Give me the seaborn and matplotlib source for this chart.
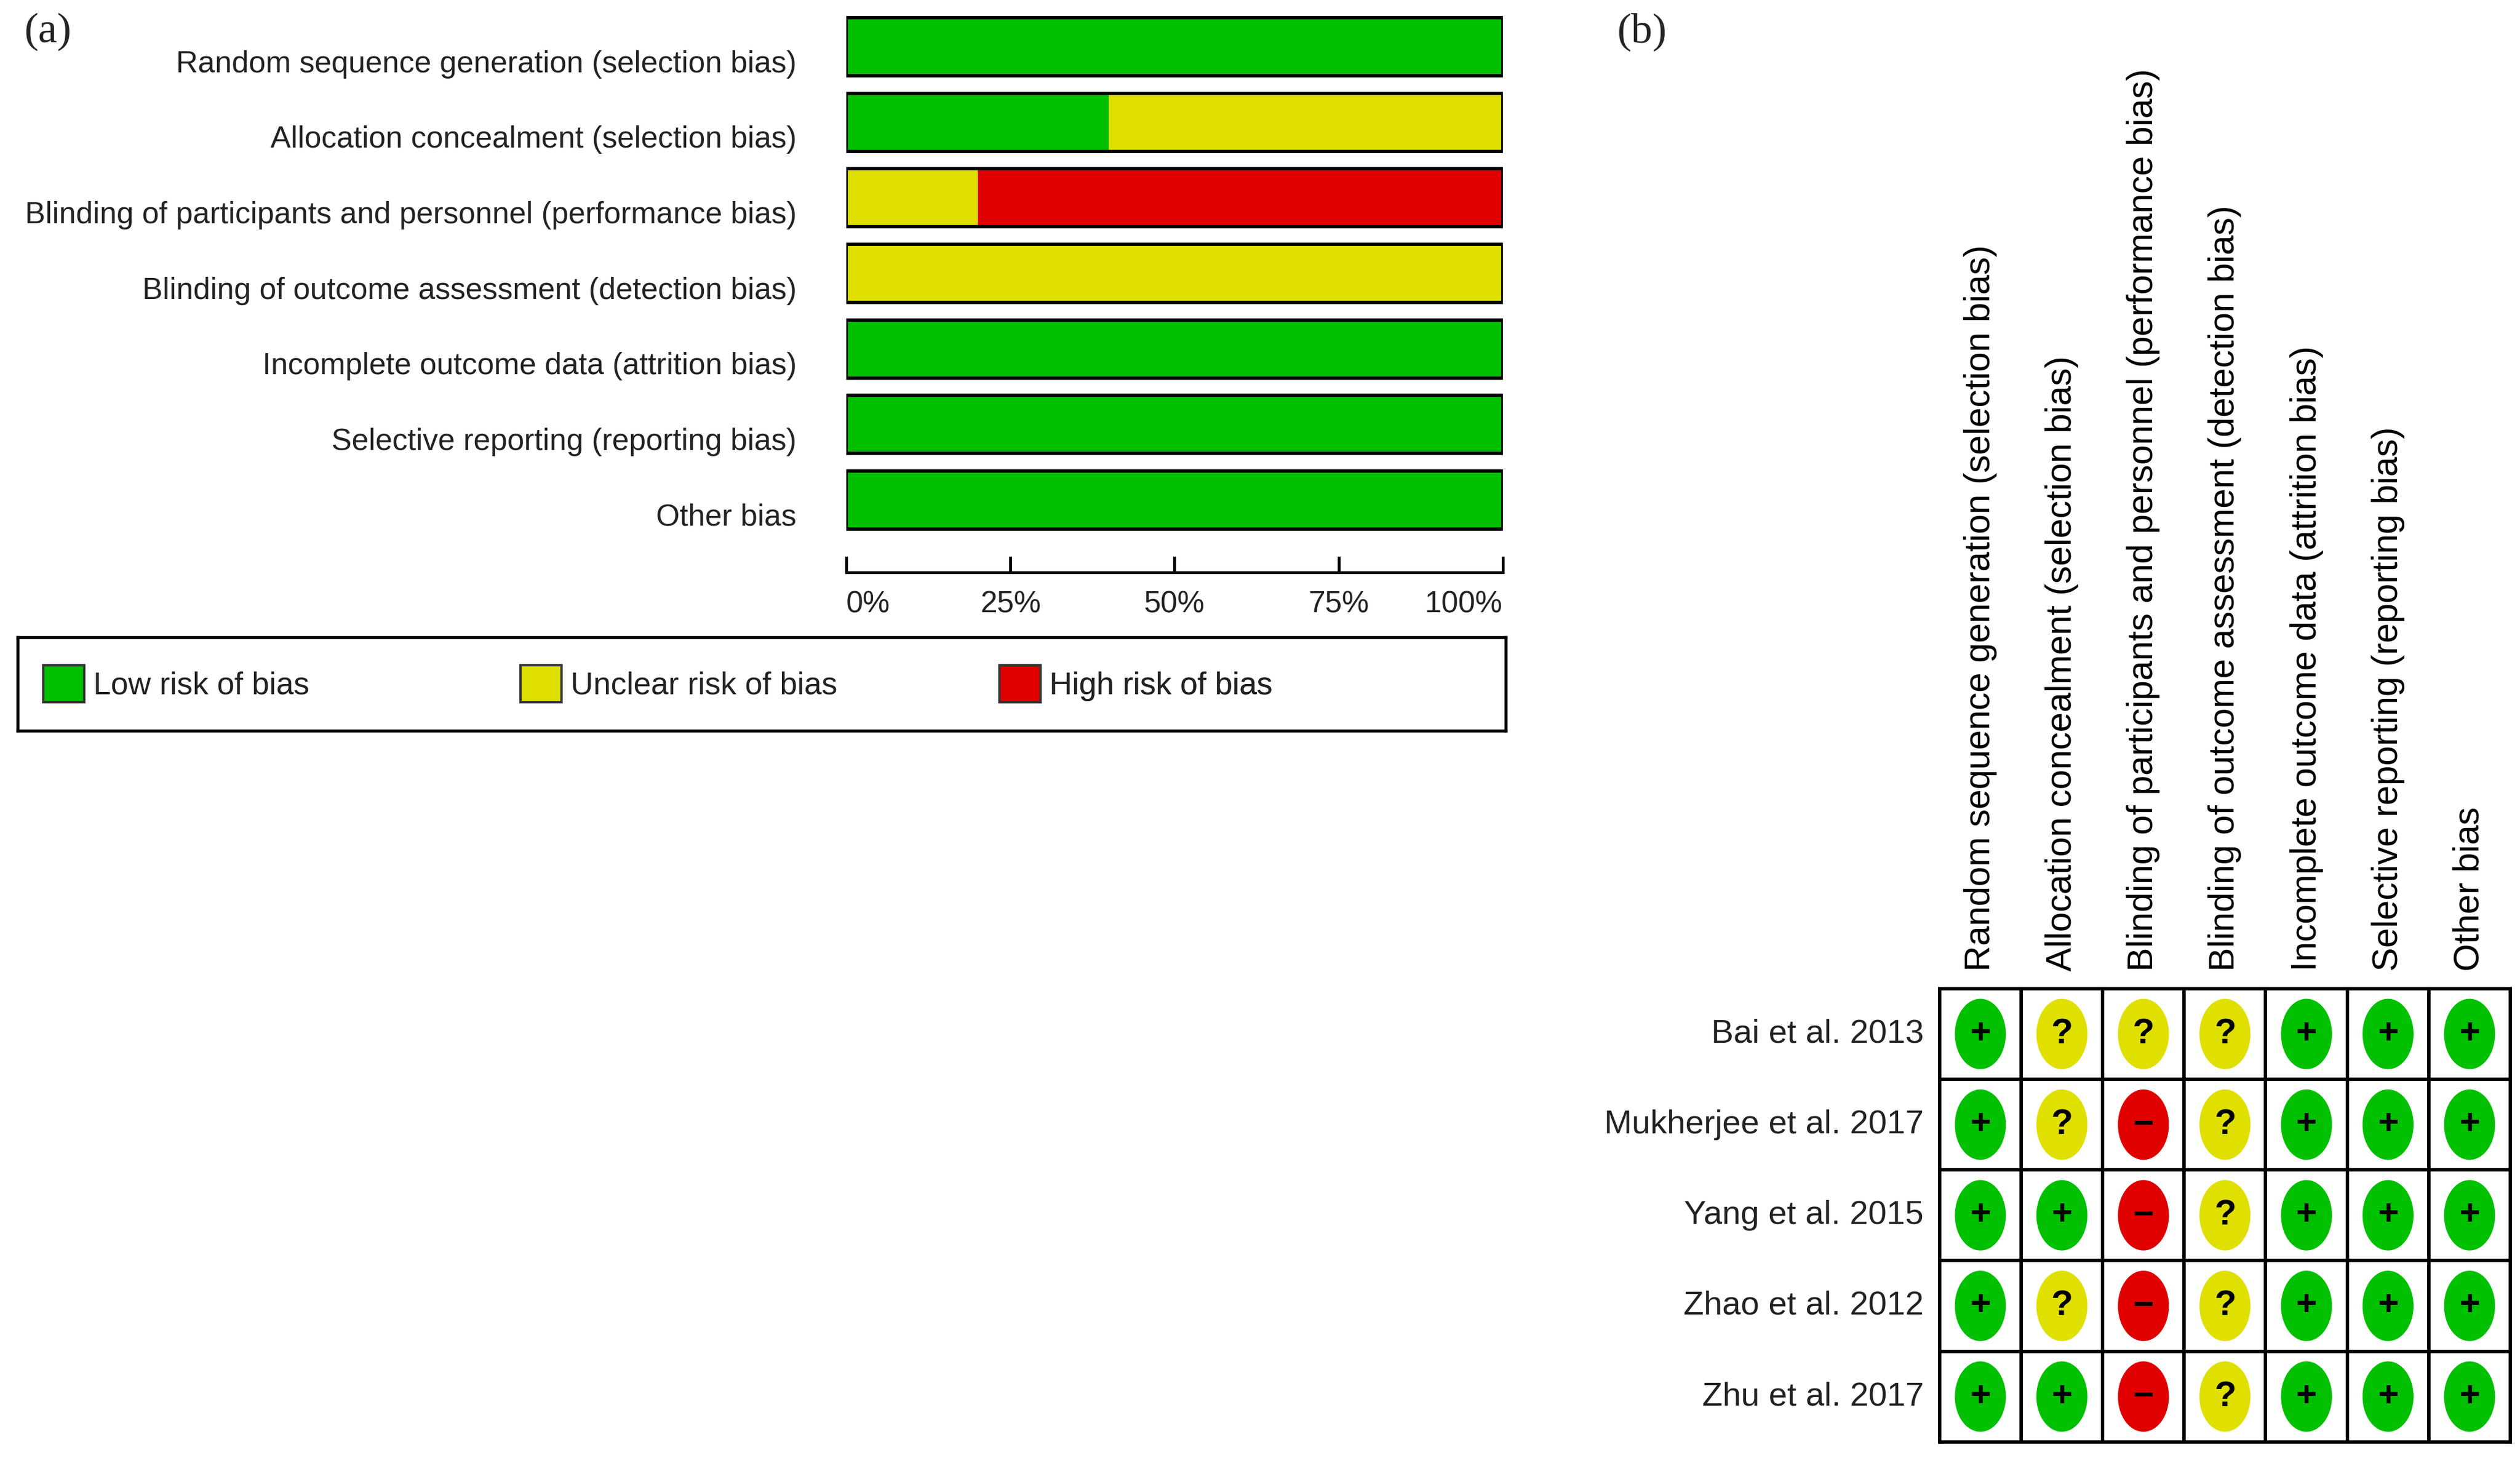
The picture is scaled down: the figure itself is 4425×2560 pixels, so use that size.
import matplotlib.pyplot as plt
import numpy as np
import pandas as pd
import seaborn as sns
from matplotlib import font_manager
from matplotlib.patches import Patch
from matplotlib.path import Path
from matplotlib.transforms import ScaledTranslation

sns.set_theme(style='white')
plt.rcParams['font.family'] = ['Liberation Sans', 'DejaVu Sans']

# risk of bias domains
domains = [
    'Random sequence generation (selection bias)',
    'Allocation concealment (selection bias)',
    'Blinding of participants and personnel (performance bias)',
    'Blinding of outcome assessment (detection bias)',
    'Incomplete outcome data (attrition bias)',
    'Selective reporting (reporting bias)',
    'Other bias',
]

# (a) percentage of studies per judgement
low_pct = [100, 40, 0, 0, 100, 100, 100]
unclear_pct = [0, 60, 20, 100, 0, 0, 0]
high_pct = [0, 0, 80, 0, 0, 0, 0]
pct_ticks = [0, 25, 50, 75, 100]
pct_labels = ['0%', '25%', '50%', '75%', '100%']

# (b) judgement per study, one entry per domain
studies = ['Bai et al. 2013', 'Mukherjee et al. 2017', 'Yang et al. 2015',
           'Zhao et al. 2012', 'Zhu et al. 2017']
bai_2013 = ['+', '?', '?', '?', '+', '+', '+']
mukherjee_2017 = ['+', '?', '-', '?', '+', '+', '+']
yang_2015 = ['+', '+', '-', '?', '+', '+', '+']
zhao_2012 = ['+', '?', '-', '?', '+', '+', '+']
zhu_2017 = ['+', '+', '-', '?', '+', '+', '+']
judgements = [bai_2013, mukherjee_2017, yang_2015, zhao_2012, zhu_2017]

GREEN = '#00c000'
YELLOW = '#e0e000'
RED = '#e00000'
palette = {'+': GREEN, '?': YELLOW, '-': RED}
symbols = {'+': '+', '?': '?', '-': '\u2212'}

names = {f.name for f in font_manager.fontManager.ttflist}
if 'Liberation Sans Narrow' in names:
    NARROW, NSIZE = 'Liberation Sans Narrow', 15
else:
    NARROW, NSIZE = 'Liberation Sans', 12.8

W, H = 1563.0, 904.0   # layout measured on a 1563 x 904 grid


def box(x0, y0, x1, y1):
    return [x0 / W, 1 - y1 / H, (x1 - x0) / W, (y1 - y0) / H]


fig = plt.figure(figsize=(14.75, 2560 / 300), dpi=300)

# ---------------- (a) stacked summary bars ----------------
df = pd.DataFrame({'domain': domains, 'low': low_pct,
                   'unclear': unclear_pct, 'high': high_pct})
df['cum_unclear'] = df['low'] + df['unclear']
df['cum_high'] = df['cum_unclear'] + df['high']

ax = fig.add_axes(box(525, 5.6, 932, 333.4))
common = dict(data=df, y='domain', orient='h', width=0.77, saturation=1,
              errorbar=None, ax=ax)
sns.barplot(x='cum_high', color=RED, linewidth=0, **common)
sns.barplot(x='cum_unclear', color=YELLOW, linewidth=0, **common)
sns.barplot(x='low', color=GREEN, linewidth=0, **common)
sns.barplot(x='cum_high', color='black', fill=False, linewidth=1.4, **common)

ax.set_xlim(0, 100)
ax.set_ylim(6.5, -0.5)
ax.set_xlabel('')
ax.set_ylabel('')
for s in ['top', 'right', 'left']:
    ax.spines[s].set_visible(False)
ax.spines['bottom'].set_position(('outward', 14.7))
ax.spines['bottom'].set_color('black')
ax.spines['bottom'].set_linewidth(1.2)
ax.set_xticks(pct_ticks)
ax.set_xticklabels(pct_labels, family=NARROW, fontsize=NSIZE)
ax.tick_params(axis='x', direction='in', length=6.8, width=1.2,
               color='black', pad=7.5, labelcolor='#222222', bottom=True)
ax.tick_params(axis='y', length=0, pad=21, labelcolor='#222222')
xl = ax.get_xticklabels()
xl[0].set_ha('left')
xl[-1].set_ha('right')
shift = ScaledTranslation(0, -6 / 72, fig.dpi_scale_trans)
for lab in ax.get_yticklabels():
    lab.set_family(NARROW)
    lab.set_fontsize(NSIZE)
    lab.set_transform(lab.get_transform() + shift)

# legend box
axl = fig.add_axes(box(11, 395, 934, 453))
axl.set_xticks([])
axl.set_yticks([])
for s in axl.spines.values():
    s.set_color('black')
    s.set_linewidth(1.3)
leg_items = [('Low risk of bias', GREEN), ('Unclear risk of bias', YELLOW),
             ('High risk of bias', RED)]
leg_x = [(27 - 11) / 923, (323 - 11) / 923, (620 - 11) / 923]
for (lbl, col), x0 in zip(leg_items, leg_x):
    lg = axl.legend(handles=[Patch(facecolor=col, edgecolor='#333333', linewidth=1.0)],
                    labels=[lbl], loc='center left', bbox_to_anchor=(x0, 0.5),
                    frameon=False, borderpad=0, borderaxespad=0,
                    handlelength=1.3, handleheight=1.45, handletextpad=0.3,
                    prop={'family': NARROW, 'size': NSIZE + 0.4})
    for t in lg.get_texts():
        t.set_color('#222222')
    axl.add_artist(lg)

fig.text(15 / W, 1 - 20 / H, '(a)', family='Liberation Serif', fontsize=18,
         ha='left', va='center')

# ---------------- (b) traffic-light table ----------------
rows = []
for i, study in enumerate(studies):
    for j, dom in enumerate(domains):
        rows.append({'study': study, 'domain': dom, 'judgement': judgements[i][j],
                     'x': j + 0.5, 'y': i + 0.5})
tl = pd.DataFrame(rows)

axb = fig.add_axes(box(1203, 613, 1557, 894))
grid = pd.DataFrame(np.zeros((len(studies), len(domains))), index=studies, columns=domains)
sns.heatmap(grid, cmap=['white'], cbar=False, linewidths=1.4, linecolor='black',
            xticklabels=domains, yticklabels=studies, ax=axb)
for s in axb.spines.values():
    s.set_visible(True)
    s.set_color('black')
    s.set_linewidth(1.4)

theta = np.linspace(0, 2 * np.pi, 100)
ellipse = Path(np.column_stack([np.cos(theta), 1.38 * np.sin(theta)]), closed=True)
sns.scatterplot(data=tl, x='x', y='y', hue='judgement', palette=palette,
                marker=ellipse, s=880, linewidth=0, legend=False, ax=axb)
for _, r in tl.iterrows():
    axb.text(r['x'], r['y'], symbols[r['judgement']], ha='center', va='center',
             fontsize=15, fontweight='bold', color='black')

axb.set_xlim(0, len(domains))
axb.set_ylim(len(studies), 0)
axb.set_xlabel('')
axb.set_ylabel('')
axb.xaxis.tick_top()
axb.set_xticklabels(domains, rotation=90, ha='center', va='bottom', fontsize=15)
axb.set_yticklabels(studies, rotation=0, fontsize=14)
axb.tick_params(axis='x', length=0, pad=7.4, labelcolor='black')
axb.tick_params(axis='y', length=0, pad=6.7, labelcolor='#222222')

fig.text(1003 / W, 1 - 20 / H, '(b)', family='Liberation Serif', fontsize=18,
         ha='left', va='center')

fig.savefig('out.png', dpi=300)
